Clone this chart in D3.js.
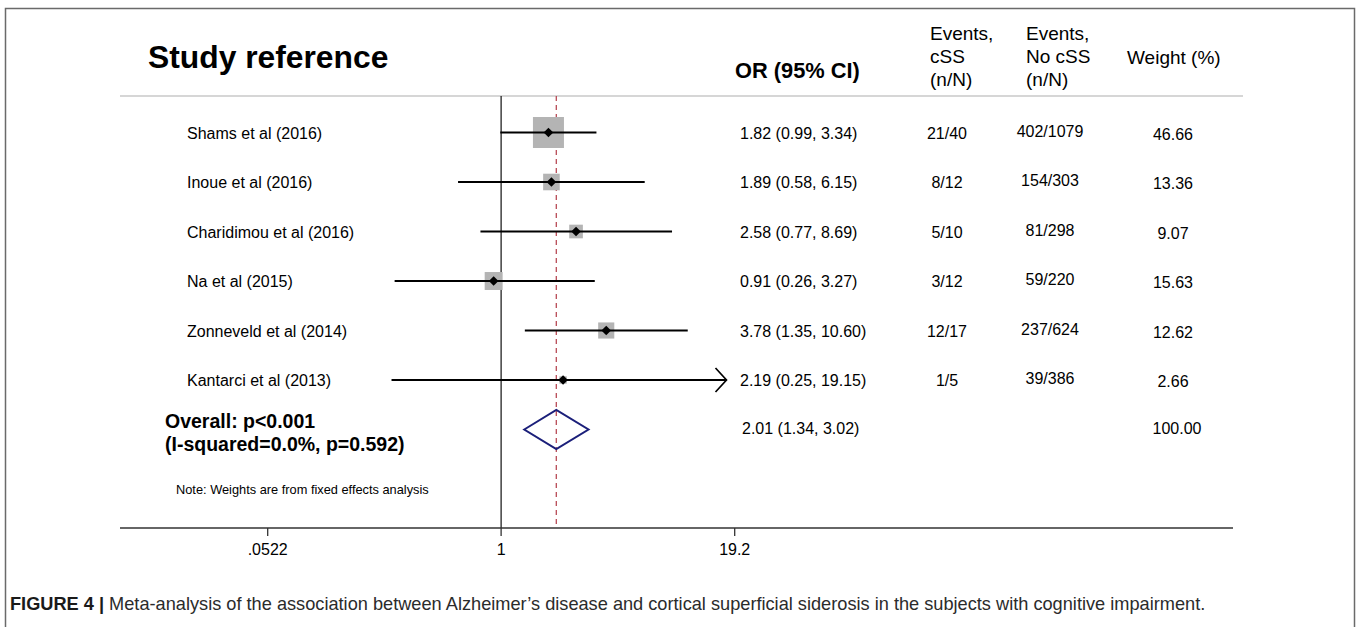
<!DOCTYPE html>
<html>
<head>
<meta charset="utf-8">
<script src="https://cdn.jsdelivr.net/npm/d3@7"></script>
<style>
  body { margin: 0; background: #fff; }
  text { font-family: "Liberation Sans", Arial, sans-serif; }
</style>
</head>
<body>
<script>
// data
const studies = ["Shams et al (2016)", "Inoue et al (2016)", "Charidimou et al (2016)",
                 "Na et al (2015)", "Zonneveld et al (2014)", "Kantarci et al (2013)"];
const orValues = [1.82, 1.89, 2.58, 0.91, 3.78, 2.19];
const ciLower = [0.99, 0.58, 0.77, 0.26, 1.35, 0.25];
const ciUpper = [3.34, 6.15, 8.69, 3.27, 10.60, 19.15];
const orLabels = ["1.82 (0.99, 3.34)", "1.89 (0.58, 6.15)", "2.58 (0.77, 8.69)",
                  "0.91 (0.26, 3.27)", "3.78 (1.35, 10.60)", "2.19 (0.25, 19.15)"];
const eventsCSS = ["21/40", "8/12", "5/10", "3/12", "12/17", "1/5"];
const eventsNoCSS = ["402/1079", "154/303", "81/298", "59/220", "237/624", "39/386"];
const weights = [46.66, 13.36, 9.07, 15.63, 12.62, 2.66];

const overall = { or: 2.01, lower: 1.34, upper: 3.02, label: "2.01 (1.34, 3.02)", weight: "100.00" };
const overallText = ["Overall: p<0.001", "(I-squared=0.0%, p=0.592)"];

const xTicks = [0.0522, 1, 19.2];
const xTickLabels = [".0522", "1", "19.2"];

const captionBold = "FIGURE 4 |";
const captionText = " Meta-analysis of the association between Alzheimer\u2019s disease and cortical superficial siderosis in the subjects with cognitive impairment.";

function main(){
    const canvasWidth = 1357;
    const canvasHeight = 627;

    const svg = d3.select("body").append("svg")
        .attr("width", canvasWidth)
        .attr("height", canvasHeight);

    // outer frame of the figure panel
    svg.append("rect")
        .attr("x", 5.5).attr("y", 8.5)
        .attr("width", 1349).attr("height", 660)
        .attr("fill", "none")
        .attr("stroke", "#6a6a6a")
        .attr("stroke-width", 1.5);

    const xScale = d3.scaleLog()
        .domain([0.0522, 19.2])
        .range([267.7, 734.7]);

    const rowScale = d3.scalePoint()
        .domain(studies.concat(["Overall"]))
        .range([132.5, 429.5]);

    const boxSize = d3.scaleSqrt()
        .domain([0, d3.max(weights)])
        .range([0, 31]);

    const top = 96, axisY = 528;

    // headers
    svg.append("text")
        .attr("x", 148).attr("y", 68)
        .attr("font-size", "31.8px").attr("font-weight", "bold")
        .text("Study reference");

    svg.append("text")
        .attr("x", 735).attr("y", 78)
        .attr("font-size", "21.8px").attr("font-weight", "bold")
        .text("OR (95% CI)");

    const hdr1 = svg.append("text").attr("x", 930).attr("font-size", "19px");
    ["Events,", "cSS", "(n/N)"].forEach((t, i) =>
        hdr1.append("tspan").attr("x", 930).attr("y", 40 + i * 23).text(t));

    const hdr2 = svg.append("text").attr("x", 1026).attr("font-size", "19px");
    ["Events,", "No cSS", "(n/N)"].forEach((t, i) =>
        hdr2.append("tspan").attr("x", 1026).attr("y", 40 + i * 23).text(t));

    svg.append("text")
        .attr("x", 1127).attr("y", 64)
        .attr("font-size", "19px")
        .text("Weight (%)");

    svg.append("line")
        .attr("x1", 120).attr("x2", 1243)
        .attr("y1", top).attr("y2", top)
        .attr("stroke", "#c8c8c8").attr("stroke-width", 1.5);

    // null line and overall effect line
    svg.append("line")
        .attr("x1", xScale(1)).attr("x2", xScale(1))
        .attr("y1", top).attr("y2", axisY)
        .attr("stroke", "#111").attr("stroke-width", 1.2);

    svg.append("line")
        .attr("x1", xScale(overall.or)).attr("x2", xScale(overall.or))
        .attr("y1", top).attr("y2", axisY)
        .attr("stroke", "#b84a55").attr("stroke-width", 1.3)
        .attr("stroke-dasharray", "5,4");

    // x axis
    const axisG = svg.append("g").attr("transform", "translate(0," + axisY + ")");
    axisG.append("line")
        .attr("x1", 120).attr("x2", 1233)
        .attr("stroke", "#333").attr("stroke-width", 1.5);
    axisG.selectAll(".tick")
        .data(xTicks)
        .join("line")
        .attr("x1", d => xScale(d)).attr("x2", d => xScale(d))
        .attr("y1", 0).attr("y2", 8)
        .attr("stroke", "#333").attr("stroke-width", 1.3);
    axisG.selectAll(".ticklabel")
        .data(xTicks)
        .join("text")
        .attr("x", d => xScale(d)).attr("y", 27)
        .attr("text-anchor", "middle")
        .attr("font-size", "16px")
        .text((d, i) => xTickLabels[i]);

    // study rows
    const rows = svg.append("g").selectAll("g")
        .data(studies)
        .join("g")
        .attr("transform", d => "translate(0," + rowScale(d) + ")");

    rows.append("text")
        .attr("x", 187).attr("y", 6)
        .attr("font-size", "16px")
        .text(d => d);

    rows.append("rect")
        .attr("x", (d, i) => xScale(orValues[i]) - boxSize(weights[i]) / 2)
        .attr("y", (d, i) => -boxSize(weights[i]) / 2)
        .attr("width", (d, i) => boxSize(weights[i]))
        .attr("height", (d, i) => boxSize(weights[i]))
        .attr("fill", "#b4b4b4");

    rows.append("line")
        .attr("x1", (d, i) => xScale(ciLower[i]))
        .attr("x2", (d, i) => ciUpper[i] > 19 ? xScale(ciUpper[i]) - 8 : xScale(ciUpper[i]))
        .attr("stroke", "#000").attr("stroke-width", 2.1);

    // arrow for the truncated interval
    rows.filter((d, i) => ciUpper[i] > 19)
        .append("path")
        .attr("d", d => {
            const tip = xScale(ciUpper[studies.indexOf(d)]) - 8;
            return "M" + (tip - 11) + ",-12L" + tip + ",0L" + (tip - 11) + ",12";
        })
        .attr("fill", "none").attr("stroke", "#000").attr("stroke-width", 1.7);

    rows.append("path")
        .attr("d", (d, i) => {
            const cx = xScale(orValues[i]);
            return "M" + (cx - 4.8) + ",0L" + cx + ",-4.8L" + (cx + 4.8) + ",0L" + cx + ",4.8Z";
        })
        .attr("fill", "#000");

    rows.append("text")
        .attr("x", 740).attr("y", 6)
        .attr("font-size", "16px")
        .text((d, i) => orLabels[i]);

    rows.append("text")
        .attr("x", 947).attr("y", 6)
        .attr("text-anchor", "middle")
        .attr("font-size", "16px")
        .text((d, i) => eventsCSS[i]);

    rows.append("text")
        .attr("x", 1050).attr("y", 4)
        .attr("text-anchor", "middle")
        .attr("font-size", "16px")
        .text((d, i) => eventsNoCSS[i]);

    rows.append("text")
        .attr("x", 1173).attr("y", 7)
        .attr("text-anchor", "middle")
        .attr("font-size", "16px")
        .text((d, i) => weights[i].toFixed(2));

    // overall
    const oy = rowScale("Overall");
    svg.append("path")
        .attr("d", "M" + xScale(overall.lower) + "," + oy +
                   "L" + xScale(overall.or) + "," + (oy - 19.5) +
                   "L" + xScale(overall.upper) + "," + oy +
                   "L" + xScale(overall.or) + "," + (oy + 19.5) + "Z")
        .attr("fill", "none")
        .attr("stroke", "#1b1f7a").attr("stroke-width", 2);

    overallText.forEach((t, i) => {
        svg.append("text")
            .attr("x", 165).attr("y", oy - 2 + i * 23)
            .attr("font-size", "19.5px").attr("font-weight", "bold")
            .text(t);
    });

    svg.append("text")
        .attr("x", 742).attr("y", oy + 4)
        .attr("font-size", "16px")
        .text(overall.label);

    svg.append("text")
        .attr("x", 1177).attr("y", oy + 4)
        .attr("text-anchor", "middle")
        .attr("font-size", "16px")
        .text(overall.weight);

    svg.append("text")
        .attr("x", 176).attr("y", 494)
        .attr("font-size", "12.8px")
        .text("Note: Weights are from fixed effects analysis");

    // caption
    const cap = svg.append("text")
        .attr("x", 10).attr("y", 610)
        .attr("font-size", "18.2px")
        .attr("fill", "#2b2b2b");
    cap.append("tspan").attr("font-weight", "bold").attr("fill", "#1a1a1a").text(captionBold);
    cap.append("tspan").text(captionText);
}
main();
</script>
</body>
</html>
